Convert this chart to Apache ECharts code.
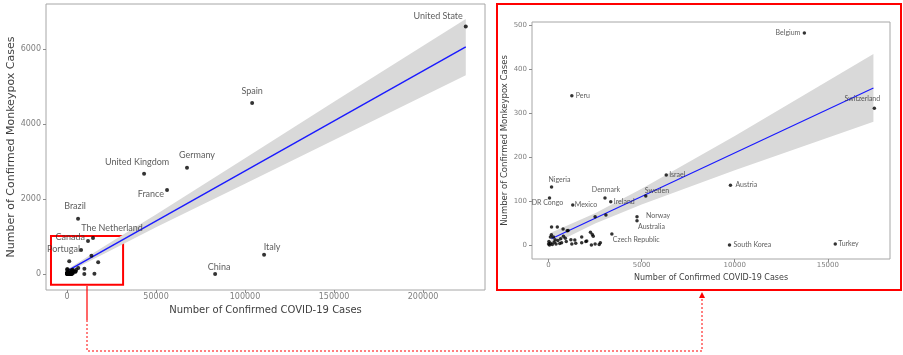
<!DOCTYPE html>
<html><head><meta charset="utf-8">
<script src="https://cdn.jsdelivr.net/npm/echarts@6/dist/echarts.min.js"></script>
<style>html,body{margin:0;padding:0;background:#fff}#c{width:903px;height:355px}</style>
</head><body><div id="c"></div>
<script>
// ---------------- data ----------------
const countries = ['United State','Spain','Germany','United Kingdom','France','Brazil','The Netherland','Canada','Portugal','Italy','China',
  'Belgium','Switzerland','Peru','Israel','Nigeria','DR Congo','Mexico','Denmark','Ireland','Sweden','Norway','Australia','Czech Republic','Austria','South Korea','Turkey',
  '','','','','','','','','','','','','','','','','','','','','','','','','','','','','','','','','','','','','','','',''];
const covidCases = [224000,104000,67400,43300,56200,6200,14600,11800,7900,110700,83200,
  13740,17500,1250,6320,160,50,1300,3030,3340,5220,4750,4750,3400,9770,9720,15400,
  2500,3080,160,470,780,1000,1050,260,150,100,1780,2250,2350,2400,2000,2300,2500,2720,2780,1410,1250,1460,1780,2050,1200,900,950,700,600,500,400,300,200,100,50,0,20,350,800,650,1100,1300];
const monkeypoxCases = [6600,4560,2830,2670,2240,1470,960,880,640,510,0,
  482,311,339,159,132,107,91,107,98,111,64,55,25,136,0,2,
  64,68,41,41,36,32,33,18,23,18,18,29,24,20,8,0,2,1,5,11,2,4,5,9,12,15,8,5,3,10,2,6,1,4,0,2,8,12,20,14,3,15];

const leftXTicks = [0,50000,100000,150000,200000];
const leftYTicks = [0,2000,4000,6000];
const rightXTicks = [0,5000,10000,15000];
const rightYTicks = [0,100,200,300,400,500];

// fitted regression lines and confidence bands
const leftFitX = [700,224000];
const leftFitY = [95,6057];
const leftBandX = [700,25000,50000,100000,150000,224000];
const leftBandLow = [50,634,1241,2406,3571,5300];
const leftBandHigh = [140,854,1581,3086,4591,6800];

const rightFitX = [150,17450];
const rightFitY = [14,357];
const rightBandX = [150,2500,5000,10000,17450];
const rightBandLow = [0,49,92,170,280];
const rightBandHigh = [28,72,128,248,434];

const leftLabelled = ['United State','Spain','Germany','United Kingdom','France','Brazil','The Netherland','Canada','Portugal','Italy','China'];
const rightLabelled = ['Belgium','Switzerland','Peru','Israel','Nigeria','DR Congo','Mexico','Denmark','Ireland','Sweden','Norway','Australia','Czech Republic','Austria','South Korea','Turkey'];

// ---------------- label placement (layout only) ----------------
const leftPlace = {
  'United State':[-3,-10,'right'], 'Spain':[0,-12,'center'], 'Germany':[10,-13,'center'],
  'United Kingdom':[-7,-12,'center'], 'France':[-3,4,'right'], 'Brazil':[-3,-13,'center'],
  'The Netherland':[19,-10,'center'], 'Canada':[-3,-4,'right'], 'Portugal':[-1,-1,'right'],
  'Italy':[8,-8,'center'], 'China':[4,-7,'center']
};
const rightPlace = {
  'Belgium':[-4,0,'right'], 'Switzerland':[-12,-9,'center'], 'Peru':[4,0,'left'], 'Israel':[3,0,'left'],
  'Nigeria':[-3,-7,'left'], 'DR Congo':[-2,5,'center'], 'Mexico':[2,0,'left'], 'Denmark':[1,-8,'center'],
  'Ireland':[3,0,'left'], 'Sweden':[-1,-5,'left'], 'Norway':[9,-1,'left'], 'Australia':[1,6,'left'],
  'Czech Republic':[1,6,'left'], 'Austria':[5,0,'left'], 'South Korea':[4,0,'left'], 'Turkey':[3,0,'left']
};

const LXMIN=-11800, LXMAX=234800, LYMIN=-430, LYMAX=7200;
const RXMIN=-890, RXMAX=18340, RYMIN=-32, RYMAX=507;

function pts(place, labelled, fontSize, xmax, ymax){
  return countries.map((n,i)=>{
    const d = {name:n, value:[covidCases[i], monkeypoxCases[i]]};
    if (labelled.indexOf(n) >= 0) {
      const p = place[n];
      d.label = {show:true, formatter:n, position:'inside', align:p[2], verticalAlign:'middle',
        offset:[p[0],p[1]], fontFamily:'Lato', fontSize:fontSize, color:'#333'};
    }
    return d;
  }).filter(d=>d.value[0]<=xmax && d.value[1]<=ymax);
}

function band(xi, bx, lo, hi){
  return {type:'custom', xAxisIndex:xi, yAxisIndex:xi, data:[[bx[0],lo[0]]], silent:true, z:1, clip:true,
    renderItem:(params, api)=>{
      const p=[];
      for(let i=0;i<bx.length;i++) p.push(api.coord([bx[i],hi[i]]));
      for(let i=bx.length-1;i>=0;i--) p.push(api.coord([bx[i],lo[i]]));
      return {type:'polygon', shape:{points:p}, style:{fill:'#d9d9d9'}};
    }};
}

const plain = v => String(v);
function xAx(gi,min,max,ticks,fs,name,nfs,gap){
  return {type:'value', gridIndex:gi, min:min, max:max, splitLine:{show:false},
    axisLine:{show:false, onZero:false}, axisTick:{show:true, customValues:ticks, length:3, lineStyle:{color:'#8c8c8c'}},
    axisLabel:{customValues:ticks, formatter:plain, fontFamily:'DejaVu Sans', fontSize:fs, color:'#7f7f7f', margin:3},
    name:name, nameLocation:'middle', nameGap:gap, nameTextStyle:{fontFamily:'DejaVu Sans', fontSize:nfs, color:'#404040'}};
}
function yAx(gi,min,max,ticks,fs,name,nfs,gap){
  return {type:'value', gridIndex:gi, min:min, max:max, splitLine:{show:false},
    axisLine:{show:false, onZero:false}, axisTick:{show:true, customValues:ticks, length:3, lineStyle:{color:'#8c8c8c'}},
    axisLabel:{customValues:ticks, formatter:plain, fontFamily:'DejaVu Sans', fontSize:fs, color:'#7f7f7f', margin:5},
    name:name, nameLocation:'middle', nameGap:gap, nameRotate:90, nameTextStyle:{fontFamily:'DejaVu Sans', fontSize:nfs, color:'#404040'}};
}

const chart = echarts.init(document.getElementById('c'), null, {renderer:'canvas'});
chart.setOption({
  animation:false,
  backgroundColor:'#fff',
  grid:[
    {left:46, top:4, width:439, height:286, show:true, borderColor:'#a6a6a6', borderWidth:1, backgroundColor:'#fff'},
    {left:532, top:22, width:358, height:237, show:true, borderColor:'#a6a6a6', borderWidth:1, backgroundColor:'#fff'}
  ],
  xAxis:[
    xAx(0,LXMIN,LXMAX,leftXTicks,8,'Number of Confirmed COVID-19 Cases',10,11),
    xAx(1,RXMIN,RXMAX,rightXTicks,7,'Number of Confirmed COVID-19 Cases',8,14)
  ],
  yAxis:[
    yAx(0,LYMIN,LYMAX,leftYTicks,8,'Number of Confirmed Monkeypox Cases',11,29),
    yAx(1,RYMIN,RYMAX,rightYTicks,7,'Number of Confirmed Monkeypox Cases',8.5,22)
  ],
  graphic:[
    {type:'rect', z:100, shape:{x:497,y:4,width:404,height:286}, style:{fill:null, stroke:'#ff0000', lineWidth:2}},
    {type:'polyline', z:100, shape:{points:[[87,286],[87,320]]}, style:{stroke:'#ff0000', lineWidth:1.2, fill:null}},
    {type:'polyline', z:100, shape:{points:[[87,320],[87,351],[702,351],[702,297]]}, style:{stroke:'#ff0000', lineWidth:1, lineDash:[2,2], fill:null}},
    {type:'polygon', z:100, shape:{points:[[702,292],[699,298],[705,298]]}, style:{fill:'#ff0000'}}
  ],
  series:[
    band(0,leftBandX,leftBandLow,leftBandHigh),
    {type:'line', xAxisIndex:0, yAxisIndex:0, data:leftFitX.map((x,i)=>[x,leftFitY[i]]), showSymbol:false, silent:true, z:2,
      lineStyle:{color:'#1a1aff', width:1.4}},
    {type:'scatter', xAxisIndex:0, yAxisIndex:0, data:pts(leftPlace,leftLabelled,9,LXMAX,LYMAX), symbolSize:4, z:3,
      itemStyle:{color:'#000'},
      markArea:{silent:true, itemStyle:{color:'rgba(0,0,0,0)', borderColor:'#ff0000', borderWidth:2},
        data:[[{coord:[-9000,1010]},{coord:[31500,-290]}]]}},
    band(1,rightBandX,rightBandLow,rightBandHigh),
    {type:'line', xAxisIndex:1, yAxisIndex:1, data:rightFitX.map((x,i)=>[x,rightFitY[i]]), showSymbol:false, silent:true, z:2,
      lineStyle:{color:'#1a1aff', width:1.2}},
    {type:'scatter', xAxisIndex:1, yAxisIndex:1, data:pts(rightPlace,rightLabelled,7,RXMAX,RYMAX), symbolSize:3.5, z:3,
      itemStyle:{color:'#000'}}
  ]
});
</script></body></html>
